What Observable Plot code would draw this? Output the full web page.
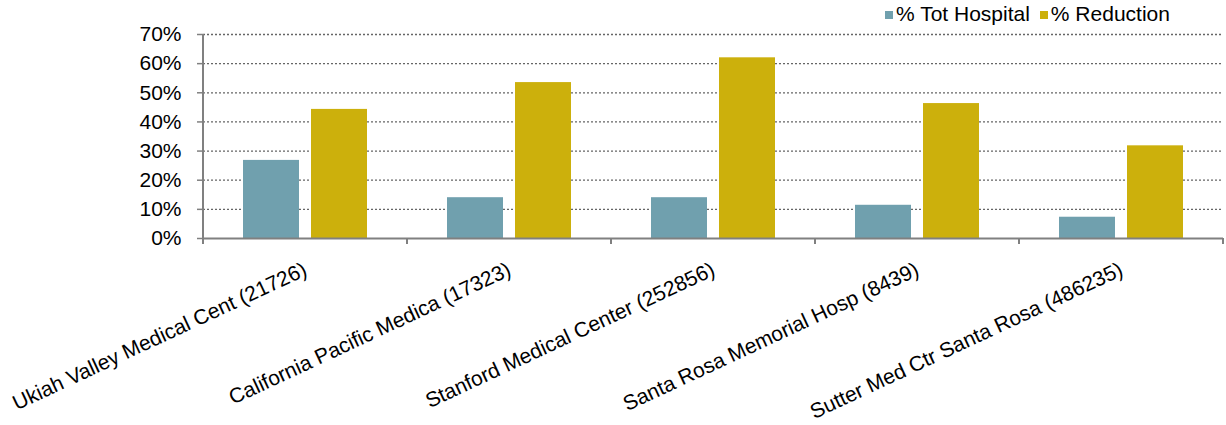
<!DOCTYPE html>
<html><head><meta charset="utf-8">
<script src="https://cdn.jsdelivr.net/npm/d3@7"></script>
<script src="https://cdn.jsdelivr.net/npm/@observablehq/plot@0.6"></script>
<style>
body{margin:0;background:#fff;font-family:"Liberation Sans",Arial,sans-serif;}
#wrap{position:relative;width:1226px;height:425px;}
#legend{position:absolute;top:2px;left:885px;font-size:21px;display:flex;align-items:center;color:#000;white-space:nowrap;}
#legend .item{display:flex;align-items:center;margin-right:10px;}
#legend .sw{display:inline-block;width:8px;height:8px;margin-right:3px;margin-top:1px;}
</style></head><body>
<div id="wrap"><div id="legend"></div><div id="chart"></div></div>
<script>
const categories = [
  "Ukiah Valley Medical Cent (21726)",
  "California Pacific Medica (17323)",
  "Stanford Medical Center (252856)",
  "Santa Rosa Memorial Hosp (8439)",
  "Sutter Med Ctr Santa Rosa (486235)"
];
const seriesNames = ["% Tot Hospital", "% Reduction"];
const totHospital = [26.8, 14.0, 14.0, 11.4, 7.3];
const reduction = [44.3, 53.5, 62.0, 46.3, 31.8];
const colors = ["#70a0ae", "#ccb00c"];
const yTicks = [0, 10, 20, 30, 40, 50, 60, 70];

const data = categories.flatMap((c, i) => [
  {cat: c, series: seriesNames[0], value: totHospital[i]},
  {cat: c, series: seriesNames[1], value: reduction[i]}
]);

const legend = document.getElementById("legend");
seriesNames.forEach((s, i) => {
  const it = document.createElement("span");
  it.className = "item";
  it.innerHTML = `<span class="sw" style="background:${colors[i]}"></span>${s}`;
  legend.appendChild(it);
});

const chart = Plot.plot({
  width: 1226, height: 425,
  marginLeft: 202, marginRight: 2, marginTop: 34, marginBottom: 187,
  style: {fontFamily: "Liberation Sans, Arial, sans-serif", fontSize: "21px", color: "#000", background: "#fff"},
  fx: {domain: categories, padding: 0, label: null},
  x: {domain: seriesNames, paddingInner: 0.17, paddingOuter: 0.575, axis: null},
  y: {domain: [0, 70], label: null},
  color: {domain: seriesNames, range: colors},
  marks: [
    Plot.gridY(yTicks.filter(d => d > 0), {stroke: "#666", strokeOpacity: 1, strokeWidth: 1.3, strokeDasharray: "2,2"}),
    Plot.barY(data, {fx: "cat", x: "series", y: "value", fill: "series"}),
    Plot.ruleY([0], {stroke: "#808080", strokeWidth: 2}),
    Plot.axisY(yTicks, {tickSize: 6, tickPadding: 16, stroke: "#808080", strokeWidth: 1.5, fill: "#000", fontSize: 21, tickFormat: d => d + "%", label: null}),
    Plot.axisFx({anchor: "bottom", tickRotate: -25, tickSize: 0, tickPadding: 30, fontSize: 21, fill: "#000", label: null})
  ]
});
document.getElementById("chart").appendChild(chart);

// y-axis line and category boundary ticks from the scales
const fx = chart.scale("fx"), y = chart.scale("y");
const svg = d3.select(chart);
const y0 = y.apply(0), y70 = y.apply(70);
const bounds = categories.map(c => fx.apply(c)).concat([fx.apply(categories[categories.length - 1]) + fx.bandwidth]);
svg.append("line").attr("x1", bounds[0]).attr("x2", bounds[0]).attr("y1", y70).attr("y2", y0 + 6)
  .attr("stroke", "#808080").attr("stroke-width", 2);
svg.selectAll("line.bt").data(bounds.slice(1)).join("line").attr("class", "bt")
  .attr("x1", d => d).attr("x2", d => d).attr("y1", y0).attr("y2", y0 + 6)
  .attr("stroke", "#808080").attr("stroke-width", 2);
</script>
</body></html>
